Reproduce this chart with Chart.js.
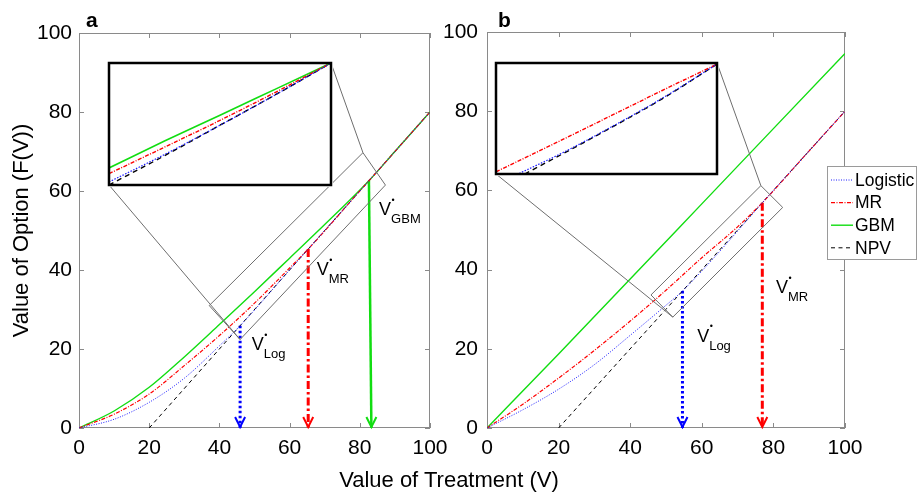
<!DOCTYPE html>
<html>
<head>
<meta charset="utf-8">
<script src="https://cdn.jsdelivr.net/npm/chart.js@4.4.0/dist/chart.umd.min.js"></script>
<style>
body { margin: 0; background: #fff; }
#wrap { position: relative; width: 920px; height: 495px; overflow: hidden; font-family: "Liberation Sans", Arial, sans-serif; }
#wrap canvas { position: absolute; }
#xtitle { position: absolute; left: 0; width: 898px; top: 469px; line-height: 22px; text-align: center; font-size: 22px; color: #000; }
</style>
</head>
<body>
<div id="wrap">
  <canvas id="ca" width="460" height="495" style="left:0;top:0"></canvas>
  <canvas id="cb" width="490" height="495" style="left:430px;top:0"></canvas>
  <canvas id="ia" width="226" height="126" style="left:107px;top:61px"></canvas>
  <canvas id="ib" width="225" height="115" style="left:494px;top:61px"></canvas>
  <div id="xtitle">Value of Treatment (V)</div>
</div>
<script>
// ---- panel a ----
var logA_V = [0, 10, 20, 30, 40, 45.9, 60, 80, 100];
var logA_F = [0, 2.2, 6.5, 12.6, 20.8, 25.9, 40, 60, 80];
var mrA_V = [0, 10, 20, 30, 40, 50, 60, 65.3, 80, 100];
var mrA_F = [0, 3.5, 8.6, 15.8, 23.4, 31.6, 40.5, 45.3, 60, 80];
var gbmA_V = [0, 10, 20, 30, 40, 50, 60, 70, 82.6, 90, 100];
var gbmA_F = [0, 4.3, 10.3, 18, 26.2, 34.5, 43, 51.5, 62.6, 70, 80];
var npvA_V = [20, 100];
var npvA_F = [0, 80];

// ---- panel b ----
var logB_V = [0, 10, 20, 30, 40, 50, 54.6, 80, 100];
var logB_F = [0, 4.6, 9.8, 16, 23.4, 31, 34.6, 60, 80];
var mrB_V = [0, 10, 20, 30, 40, 50, 60, 70, 76.9, 90, 100];
var mrB_F = [0, 6, 12.6, 19.6, 27, 34.8, 43, 50.8, 56.9, 70, 80];
var gbmB_V = [0, 20, 40, 60, 80, 100];
var gbmB_F = [0, 18.7, 37.6, 56.6, 75.6, 94.6];
var npvB_V = [20, 100];
var npvB_F = [0, 80];

// optimal thresholds V* (arrows)
var starA_top = [45.9, 65.3, 82.6];
var starA_bot = [45.9, 65.3, 83.3];
var starA_F = [25.9, 45.3, 62.6];
var starB_V = [54.6, 76.9];
var starB_F = [34.6, 56.9];

// V* labels
var labA_names = ['Log', 'MR', 'GBM'];
var labA_V = [49.2, 67.7, 85.5];
var labA_F = [19.7, 38.7, 53.9];
var labB_names = ['Log', 'MR'];
var labB_V = [58.7, 80.7];
var labB_F = [21.8, 34.0];

// zoom windows (corners in data units)
var rectA_V = [80.9, 87.3, 45.9, 37.1];
var rectA_F = [69.7, 61.5, 22.4, 31.0];
var rectB_V = [76.5, 82.6, 51.9, 45.8];
var rectB_F = [61.2, 55.7, 28.0, 33.6];

// insets (fraction of inset box)
var inA_x = [0, 0.25, 0.5, 0.75, 1];
var inA_gbm = [0.14, 0.36, 0.572, 0.786, 1];
var inA_mr = [0.093, 0.31, 0.53, 0.76, 1];
var inA_log = [0.025, 0.25, 0.49, 0.74, 1];
var inA_npv = [0, 0.24, 0.49, 0.74, 1];
var inB_mrX = [0, 0.25, 0.5, 0.75, 1];
var inB_mr = [0.02, 0.26, 0.505, 0.75, 0.99];
var inB_logX = [0.105, 0.3, 0.5, 0.75, 1];
var inB_log = [0.005, 0.19, 0.4, 0.68, 0.99];
var inB_npvX = [0.13, 0.3, 0.5, 0.75, 1];
var inB_npv = [0, 0.18, 0.395, 0.675, 0.99];

var BLUE = '#1a1aff', RED = '#ff0000', GREEN = '#11dd11', BLACK = '#000000';
var FONT = '"Liberation Sans", Arial, sans-serif';
Chart.defaults.font.family = FONT;
Chart.defaults.color = '#000';

function pts(xs, ys) {
  var out = [];
  for (var i = 0; i < xs.length; i++) out.push({x: xs[i], y: ys[i]});
  return out;
}

function curve(label, xs, ys, color, width, dash) {
  return {label: label, data: pts(xs, ys), borderColor: color, borderWidth: width, borderDash: dash,
    pointRadius: 0, fill: false, cubicInterpolationMode: 'monotone'};
}

function arrow(x0, x1, f, color, width, dash) {
  return {label: '', arrow: true, data: [{x: x0, y: f}, {x: x1, y: 0}], borderColor: color,
    borderWidth: width, borderDash: dash, pointRadius: 0, fill: false};
}

var deco = {
  id: 'deco',
  beforeDatasetsDraw: function(chart) {
    var ctx = chart.ctx, a = chart.chartArea, sx = chart.scales.x, sy = chart.scales.y;
    ctx.save();
    ctx.strokeStyle = '#8a8a8a';
    ctx.lineWidth = 1;
    ctx.strokeRect(a.left + 0.5, a.top + 0.5, a.right - a.left - 1, a.bottom - a.top - 1);
    ctx.beginPath();
    sx.ticks.forEach(function(t) {
      var p = Math.round(sx.getPixelForValue(t.value)) + 0.5;
      ctx.moveTo(p, a.bottom); ctx.lineTo(p, a.bottom - 5);
      ctx.moveTo(p, a.top); ctx.lineTo(p, a.top + 5);
    });
    sy.ticks.forEach(function(t) {
      var p = Math.round(sy.getPixelForValue(t.value)) + 0.5;
      ctx.moveTo(a.left, p); ctx.lineTo(a.left + 5, p);
      ctx.moveTo(a.right, p); ctx.lineTo(a.right - 5, p);
    });
    ctx.stroke();
    ctx.restore();
  },
  afterDatasetsDraw: function(chart, args, o) {
    var ctx = chart.ctx, sx = chart.scales.x, sy = chart.scales.y;
    ctx.save();

    // zoom window and connectors to the inset
    var px = o.rectV.map(function(v) { return sx.getPixelForValue(v); });
    var py = o.rectF.map(function(v) { return sy.getPixelForValue(v); });
    ctx.strokeStyle = '#6e6e6e';
    ctx.lineWidth = 1;
    ctx.setLineDash([]);
    ctx.beginPath();
    ctx.moveTo(px[0], py[0]);
    for (var i = 1; i < 4; i++) ctx.lineTo(px[i], py[i]);
    ctx.closePath();
    ctx.moveTo(o.inset[0] + o.inset[2] - o.offX, o.inset[1]);
    ctx.lineTo(px[0], py[0]);
    ctx.moveTo(o.inset[0] - o.offX, o.inset[1] + o.inset[3]);
    ctx.lineTo(px[2], py[2]);
    ctx.stroke();

    // arrow heads
    chart.data.datasets.forEach(function(ds, k) {
      if (!ds.arrow) return;
      var m = chart.getDatasetMeta(k);
      var p = m.data[m.data.length - 1];
      ctx.strokeStyle = ds.borderColor;
      ctx.lineWidth = 2;
      ctx.setLineDash([]);
      ctx.beginPath();
      ctx.moveTo(p.x - 5, p.y - 11);
      ctx.lineTo(p.x, p.y - 1);
      ctx.lineTo(p.x + 5, p.y - 11);
      ctx.stroke();
    });

    // V* labels
    ctx.fillStyle = '#000';
    o.labNames.forEach(function(n, k) {
      var x = sx.getPixelForValue(o.labV[k]), y = sy.getPixelForValue(o.labF[k]);
      ctx.font = '18px ' + FONT;
      ctx.textAlign = 'left';
      ctx.textBaseline = 'alphabetic';
      ctx.fillText('V', x, y);
      var w = ctx.measureText('V').width;
      ctx.font = '13px ' + FONT;
      ctx.fillText(n, x + w, y + 8);
      ctx.font = '9px ' + FONT;
      ctx.textBaseline = 'middle';
      ctx.fillText('\u2022', x + w + 0.5, y - 15);
    });

    // panel letter
    ctx.font = 'bold 21px ' + FONT;
    ctx.textBaseline = 'alphabetic';
    ctx.textAlign = 'left';
    ctx.fillText(o.letter, o.letterX, 27);

    // legend
    if (o.legend) {
      var L = o.legend;
      ctx.fillStyle = '#fff';
      ctx.fillRect(L[0], L[1], L[2], L[3]);
      ctx.strokeStyle = '#9a9a9a';
      ctx.lineWidth = 1;
      ctx.strokeRect(L[0] + 0.5, L[1] + 0.5, L[2], L[3]);
      ctx.font = '17.5px ' + FONT;
      ctx.textBaseline = 'middle';
      for (var j = 0; j < 4; j++) {
        var ds = chart.data.datasets[j];
        var yy = L[1] + 14 + j * 22.6;
        ctx.strokeStyle = ds.borderColor;
        ctx.lineWidth = ds.borderWidth;
        ctx.setLineDash(ds.borderDash || []);
        ctx.beginPath();
        ctx.moveTo(L[0] + 4, yy);
        ctx.lineTo(L[0] + 26, yy);
        ctx.stroke();
        ctx.setLineDash([]);
        ctx.fillStyle = '#000';
        ctx.fillText(ds.label, L[0] + 28, yy + 1);
      }
    }
    ctx.restore();
  }
};

function axes(padY, showTitle, yWidth) {
  return {
    x: {type: 'linear', min: 0, max: 100,
      ticks: {stepSize: 20, padding: 8, font: {size: 21}, color: '#000'},
      grid: {display: false, drawTicks: false}, border: {display: false},
      afterFit: function(s) { s.height = 67; }},
    y: {type: 'linear', min: 0, max: 100,
      ticks: {stepSize: 20, padding: padY, font: {size: 21}, color: '#000'},
      grid: {display: false, drawTicks: false}, border: {display: false},
      title: {display: showTitle, text: 'Value of Option (F(V))', font: {size: 22}, padding: {top: 9, bottom: 0}, color: '#000'},
      afterFit: function(s) { s.width = yWidth; }}
  };
}

new Chart(document.getElementById('ca'), {
  type: 'line',
  data: {datasets: [
    curve('Logistic', logA_V, logA_F, BLUE, 1, [1, 1.5]),
    curve('MR', mrA_V, mrA_F, RED, 1.2, [4, 1.5, 1, 1.5]),
    curve('GBM', gbmA_V, gbmA_F, GREEN, 1.4, []),
    curve('NPV', npvA_V, npvA_F, BLACK, 1, [4, 3.5]),
    arrow(starA_top[0], starA_bot[0], starA_F[0], '#0000ff', 3, [2.5, 2.5]),
    arrow(starA_top[1], starA_bot[1], starA_F[1], RED, 3, [8, 3, 2.5, 3]),
    arrow(starA_top[2], starA_bot[2], starA_F[2], GREEN, 2.5, [])
  ]},
  plugins: [deco],
  options: {
    responsive: false, animation: false, devicePixelRatio: 1,
    layout: {padding: {left: 0, right: 30, top: 33, bottom: 0}},
    scales: axes(7, true, 79),
    plugins: {legend: {display: false}, tooltip: {enabled: false},
      deco: {rectV: rectA_V, rectF: rectA_F, inset: [109, 63, 222, 122], offX: 0,
        labNames: labA_names, labV: labA_V, labF: labA_F, letter: 'a', letterX: 86, legend: null}}
  }
});

new Chart(document.getElementById('cb'), {
  type: 'line',
  data: {datasets: [
    curve('Logistic', logB_V, logB_F, BLUE, 1, [1, 1.5]),
    curve('MR', mrB_V, mrB_F, RED, 1.2, [4, 1.5, 1, 1.5]),
    curve('GBM', gbmB_V, gbmB_F, GREEN, 1.4, []),
    curve('NPV', npvB_V, npvB_F, BLACK, 1, [4, 3.5]),
    arrow(starB_V[0], starB_V[0], starB_F[0], '#0000ff', 3, [2.5, 2.5]),
    arrow(starB_V[1], starB_V[1], starB_F[1], RED, 3, [8, 3, 2.5, 3])
  ]},
  plugins: [deco],
  options: {
    responsive: false, animation: false, devicePixelRatio: 1,
    layout: {padding: {left: 0, right: 75, top: 32, bottom: 0}},
    scales: axes(9, false, 57),
    plugins: {legend: {display: false}, tooltip: {enabled: false},
      deco: {rectV: rectB_V, rectF: rectB_F, inset: [496, 63, 221, 111], offX: 430,
        labNames: labB_names, labV: labB_V, labF: labB_F, letter: 'b', letterX: 68,
        legend: [397, 166, 89, 93]}}
  }
});

var insetFrame = {
  id: 'insetFrame',
  beforeDraw: function(chart) {
    var ctx = chart.ctx;
    ctx.save();
    ctx.fillStyle = '#fff';
    ctx.fillRect(0, 0, chart.width, chart.height);
    ctx.restore();
  },
  afterDraw: function(chart) {
    var ctx = chart.ctx, a = chart.chartArea;
    ctx.save();
    ctx.strokeStyle = '#000';
    ctx.lineWidth = 2.5;
    ctx.strokeRect(a.left, a.top, a.right - a.left, a.bottom - a.top);
    ctx.restore();
  }
};

function insetChart(id, sets) {
  new Chart(document.getElementById(id), {
    type: 'line',
    data: {datasets: sets},
    plugins: [insetFrame],
    options: {
      responsive: false, animation: false, devicePixelRatio: 1,
      layout: {padding: 2},
      scales: {x: {type: 'linear', min: 0, max: 1, display: false},
               y: {type: 'linear', min: 0, max: 1, display: false}},
      plugins: {legend: {display: false}, tooltip: {enabled: false}}
    }
  });
}

insetChart('ia', [
  curve('Logistic', inA_x, inA_log, BLUE, 1.2, [1.5, 1.5]),
  curve('MR', inA_x, inA_mr, RED, 1.4, [4, 1.5, 1, 1.5]),
  curve('GBM', inA_x, inA_gbm, GREEN, 1.6, []),
  curve('NPV', inA_x, inA_npv, BLACK, 1.4, [5, 4])
]);

insetChart('ib', [
  curve('Logistic', inB_logX, inB_log, BLUE, 1.2, [1.5, 1.5]),
  curve('MR', inB_mrX, inB_mr, RED, 1.4, [4, 1.5, 1, 1.5]),
  curve('NPV', inB_npvX, inB_npv, BLACK, 1.4, [5, 4])
]);
</script>
</body>
</html>
